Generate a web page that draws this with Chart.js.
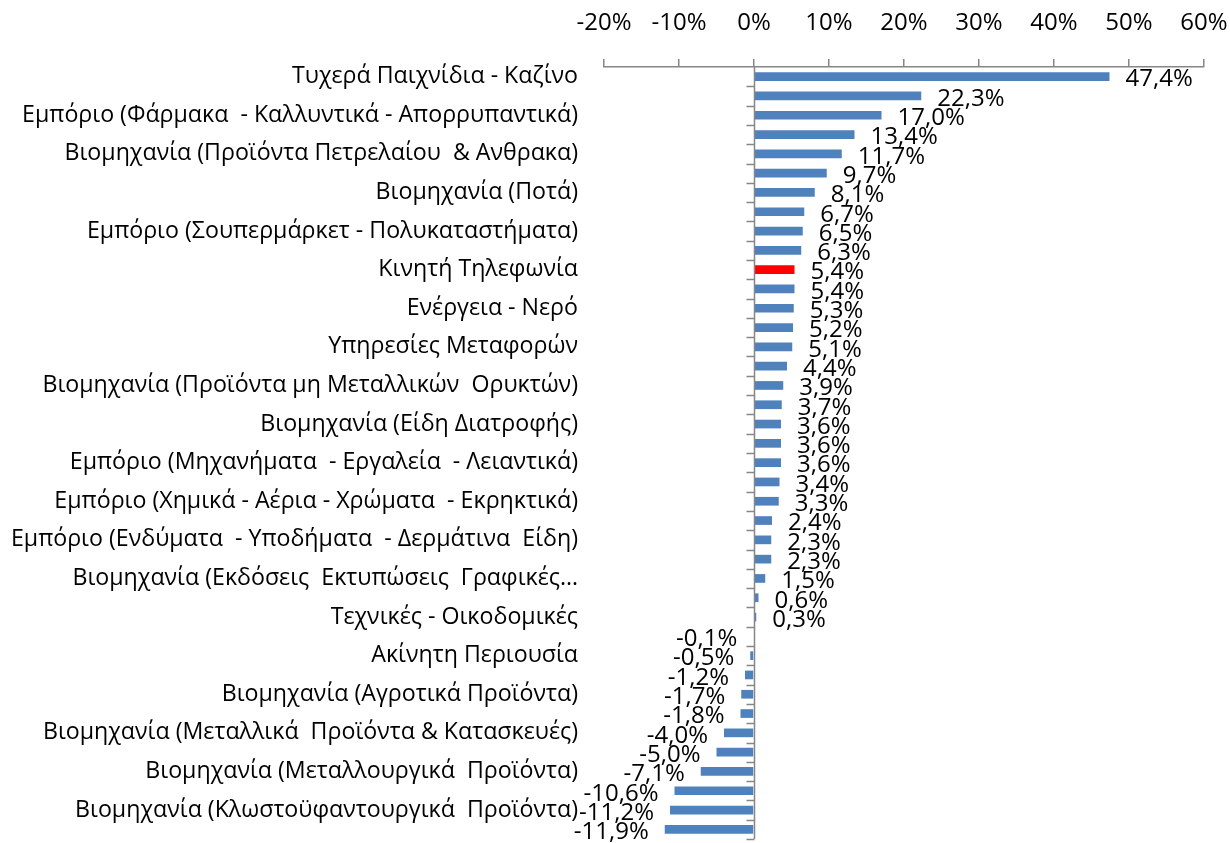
<!DOCTYPE html>
<html>
<head>
<meta charset="utf-8">
<script src="https://cdn.jsdelivr.net/npm/chart.js@4.4.1/dist/chart.umd.min.js"></script>
<style>
  html, body { margin: 0; padding: 0; background: #ffffff; }
  #wrap { width: 1230px; height: 843px; position: relative; }
</style>
</head>
<body>
<div id="wrap"><canvas id="c" width="1230" height="843"></canvas></div>
<script>
// ---- data ----
const categories = [
  'Τυχερά Παιχνίδια - Καζίνο', '',
  'Εμπόριο (Φάρμακα  - Καλλυντικά - Απορρυπαντικά)', '',
  'Βιομηχανία (Προϊόντα Πετρελαίου  & Ανθρακα)', '',
  'Βιομηχανία (Ποτά)', '',
  'Εμπόριο (Σουπερμάρκετ - Πολυκαταστήματα)', '',
  'Κινητή Τηλεφωνία', '',
  'Ενέργεια - Νερό', '',
  'Υπηρεσίες Μεταφορών', '',
  'Βιομηχανία (Προϊόντα μη Μεταλλικών  Ορυκτών)', '',
  'Βιομηχανία (Είδη Διατροφής)', '',
  'Εμπόριο (Μηχανήματα  - Εργαλεία  - Λειαντικά)', '',
  'Εμπόριο (Χημικά - Αέρια - Χρώματα  - Εκρηκτικά)', '',
  'Εμπόριο (Ενδύματα  - Υποδήματα  - Δερμάτινα  Είδη)', '',
  'Βιομηχανία (Εκδόσεις  Εκτυπώσεις  Γραφικές…', '',
  'Τεχνικές - Οικοδομικές', '',
  'Ακίνητη Περιουσία', '',
  'Βιομηχανία (Αγροτικά Προϊόντα)', '',
  'Βιομηχανία (Μεταλλικά  Προϊόντα & Κατασκευές)', '',
  'Βιομηχανία (Μεταλλουργικά  Προϊόντα)', '',
  'Βιομηχανία (Κλωστοϋφαντουργικά  Προϊόντα)', ''
];
const changePct = [
  47.4, 22.3, 17.0, 13.4, 11.7, 9.7, 8.1, 6.7, 6.5, 6.3,
  5.4, 5.4, 5.3, 5.2, 5.1, 4.4, 3.9, 3.7, 3.6, 3.6,
  3.6, 3.4, 3.3, 2.4, 2.3, 2.3, 1.5, 0.6, 0.3, -0.1,
  -0.5, -1.2, -1.7, -1.8, -4.0, -5.0, -7.1, -10.6, -11.2, -11.9
];
const highlightIndex = 10; // Κινητή Τηλεφωνία
const xTicks = [-20, -10, 0, 10, 20, 30, 40, 50, 60];

// ---- styles ----
const FONT = "'Open Sans', 'Noto Sans', sans-serif";
const BLUE = '#4F81BD';
const RED = '#FF0000';
const AXIS = '#868686';

const barColors = changePct.map((v, i) => i === highlightIndex ? RED : BLUE);

const fmt = v => v.toFixed(1).replace('.', ',') + '%';

const dataLabelPlugin = {
  id: 'dataLabels',
  afterDatasetsDraw(chart) {
    const ctx = chart.ctx;
    const meta = chart.getDatasetMeta(0);
    ctx.save();
    ctx.font = "24px " + FONT;
    ctx.fillStyle = '#000000';
    ctx.textBaseline = 'middle';
    meta.data.forEach((bar, i) => {
      const v = changePct[i];
      if (v >= 0) {
        ctx.textAlign = 'left';
        ctx.fillText(fmt(v), bar.x + 16, bar.y + 3);
      } else {
        ctx.textAlign = 'right';
        ctx.fillText(fmt(v), bar.x - 16, bar.y + 3);
      }
    });
    ctx.restore();
  }
};

const zeroAxisPlugin = {
  id: 'zeroAxis',
  afterDatasetsDraw(chart) {
    const ctx = chart.ctx;
    const xs = chart.scales.x, ys = chart.scales.y;
    const x0 = Math.round(xs.getPixelForValue(0)) + 0.5;
    const top = chart.chartArea.top, bottom = chart.chartArea.bottom;
    const n = categories.length;
    const step = (bottom - top) / n;
    ctx.save();
    ctx.strokeStyle = AXIS;
    ctx.lineWidth = 1.5;
    ctx.beginPath();
    ctx.moveTo(x0, top);
    ctx.lineTo(x0, bottom);
    for (let i = 1; i <= n; i++) {
      const y = Math.round(ys.getPixelForValue(i - 1) + step / 2) + 0.5;
      ctx.moveTo(x0 - 8, y);
      ctx.lineTo(x0, y);
    }
    ctx.stroke();
    ctx.restore();
  }
};

new Chart(document.getElementById('c'), {
  type: 'bar',
  data: {
    labels: categories,
    datasets: [{
      data: changePct,
      backgroundColor: barColors,
      borderWidth: 0,
      categoryPercentage: 1.0,
      barPercentage: 0.45
    }]
  },
  options: {
    indexAxis: 'y',
    responsive: false,
    animation: false,
    devicePixelRatio: 1,
    layout: { padding: { left: 0, right: 26, top: 0, bottom: 4 } },
    plugins: {
      legend: { display: false },
      tooltip: { enabled: false },
      title: { display: false }
    },
    scales: {
      x: {
        position: 'top',
        min: -20,
        max: 60,
        afterBuildTicks(scale) { scale.ticks = xTicks.map(v => ({ value: v })); },
        afterFit(scale) {
          scale.height = 67;
          scale.paddingLeft = 0; scale.paddingRight = 0;
          scale.paddingTop = 0; scale.paddingBottom = 0;
        },
        ticks: {
          callback: v => v + '%',
          font: { family: FONT, size: 24 },
          color: '#000000',
          padding: 21,
          maxRotation: 0
        },
        grid: {
          display: true,
          drawOnChartArea: false,
          drawTicks: true,
          tickLength: 8,
          color: AXIS,
          lineWidth: 1.5
        },
        border: { display: true, color: AXIS, width: 1.5 }
      },
      y: {
        afterFit(scale) {
          scale.width = 604;
          scale.paddingTop = 0; scale.paddingBottom = 0;
          scale.paddingLeft = 0; scale.paddingRight = 0;
        },
        ticks: {
          autoSkip: false,
          font: { family: FONT, size: 23.2 },
          color: '#000000',
          padding: 26
        },
        grid: { display: false, drawTicks: false },
        border: { display: false }
      }
    }
  },
  plugins: [dataLabelPlugin, zeroAxisPlugin]
});
</script>
</body>
</html>
